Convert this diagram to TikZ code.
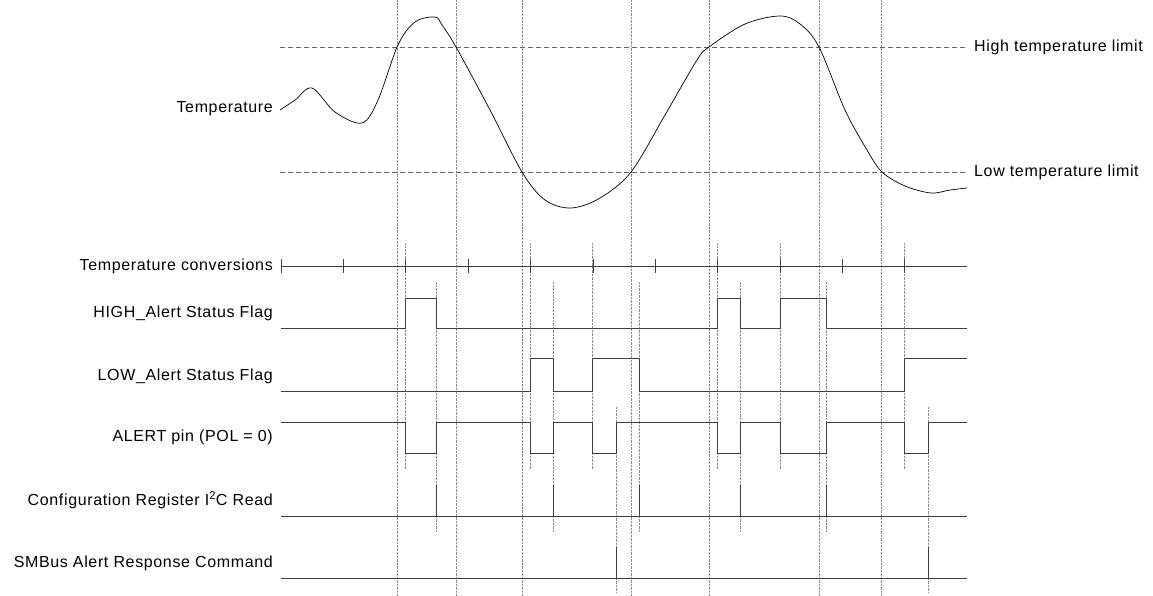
\documentclass[tikz,border=0pt]{standalone}
\usepackage{fontspec}
\setmainfont{Liberation Sans}[LetterSpace=4]
\begin{document}
\begin{tikzpicture}[x=1pt,y=-1pt,
  sig/.style={line width=0.9pt,black!75},
  lim/.style={dashed,dash pattern=on 5pt off 3pt,line width=0.9pt,black!60},
  guide/.style={densely dotted,line width=0.4pt,black!45},
  lbl/.style={anchor=east,inner sep=0pt,font=\fontsize{16}{18}\selectfont},
  rlbl/.style={anchor=west,inner sep=0pt,font=\fontsize{16}{18}\selectfont}]
\useasboundingbox (0,0) rectangle (1153,596);
% long guides
\foreach \x in {397,456,522,631,709,819,881} \draw[guide] (\x,0) -- (\x,596);
\foreach \x in {405,530,592,717,780,904} \draw[guide] (\x,243) -- (\x,469);
\foreach \x in {436,553,639,740,826} \draw[guide] (\x,282) -- (\x,532);
\foreach \x in {616,928} \draw[guide] (\x,407) -- (\x,592);
% limits
\coordinate (hl0) at (280,47); \coordinate (hl1) at (965,47);
\coordinate (ll0) at (280,172); \coordinate (ll1) at (965,172);
\draw[lim] (hl0) -- (hl1);
\draw[lim] (ll0) -- (ll1);
\node[rlbl] (hlt) at (974,47) {High temperature limit};
\node[rlbl] (llt) at (974,172) {Low temperature limit};
% temperature curve
\draw[line width=0.7pt] plot[smooth,tension=0.55] coordinates {(280,110) (295,100) (312,88) (335,112) (362,123) (378,100) (398,45) (415,22) (435,17) (442,25) (456,47) (490,110) (522,172) (545,200) (571,208) (600,198) (631,172) (665,115) (697,60) (709,47) (745,24) (780,16) (800,24) (819,47) (845,110) (867,150) (882,172) (905,186) (931,193) (950,190) (967,188)};
\node[lbl] (t) at (273,109) {Temperature};
% conversions
\node[lbl] (c) at (273,266) {Temperature conversions};
\draw[sig] (281,266) -- (967,266);
\foreach \x in {281,343,405,468,530,593,655,717,780,842,904} \draw[sig] (\x,259) -- (\x,273);
% HIGH
\node[lbl] (h) at (273,313) {HIGH\_Alert Status Flag};
\draw[sig] (281,328) -| (405,298) -| (436,328) -| (717,298) -| (740,328) -| (780,298) -| (826,328) -- (967,328);
% LOW
\node[lbl] (l) at (273,376) {LOW\_Alert Status Flag};
\draw[sig] (281,391) -| (530,358) -| (553,391) -| (592,358) -| (639,391) -| (904,358) -- (967,358);
% ALERT
\node[lbl] (a) at (273,437) {ALERT pin (POL = 0)};
\draw[sig] (281,422) -| (405,453) -| (436,422) -| (530,453) -| (553,422) -| (592,453) -| (616,422) -| (717,453) -| (740,422) -| (780,453) -| (826,422) -| (904,453) -| (928,422) -- (967,422);
% Config
\node[lbl] (r) at (273,500) {Configuration Register I\textsuperscript{2}C Read};
\draw[sig] (281,516) -- (967,516);
\foreach \x in {436,553,639,740,826} \draw[sig] (\x,516) -- (\x,485);
% SMBus
\node[lbl] (s) at (273,563) {SMBus Alert Response Command};
\draw[sig] (281,578) -- (967,578);
\foreach \x in {616,928} \draw[sig] (\x,578) -- (\x,547);
\end{tikzpicture}
\end{document}
